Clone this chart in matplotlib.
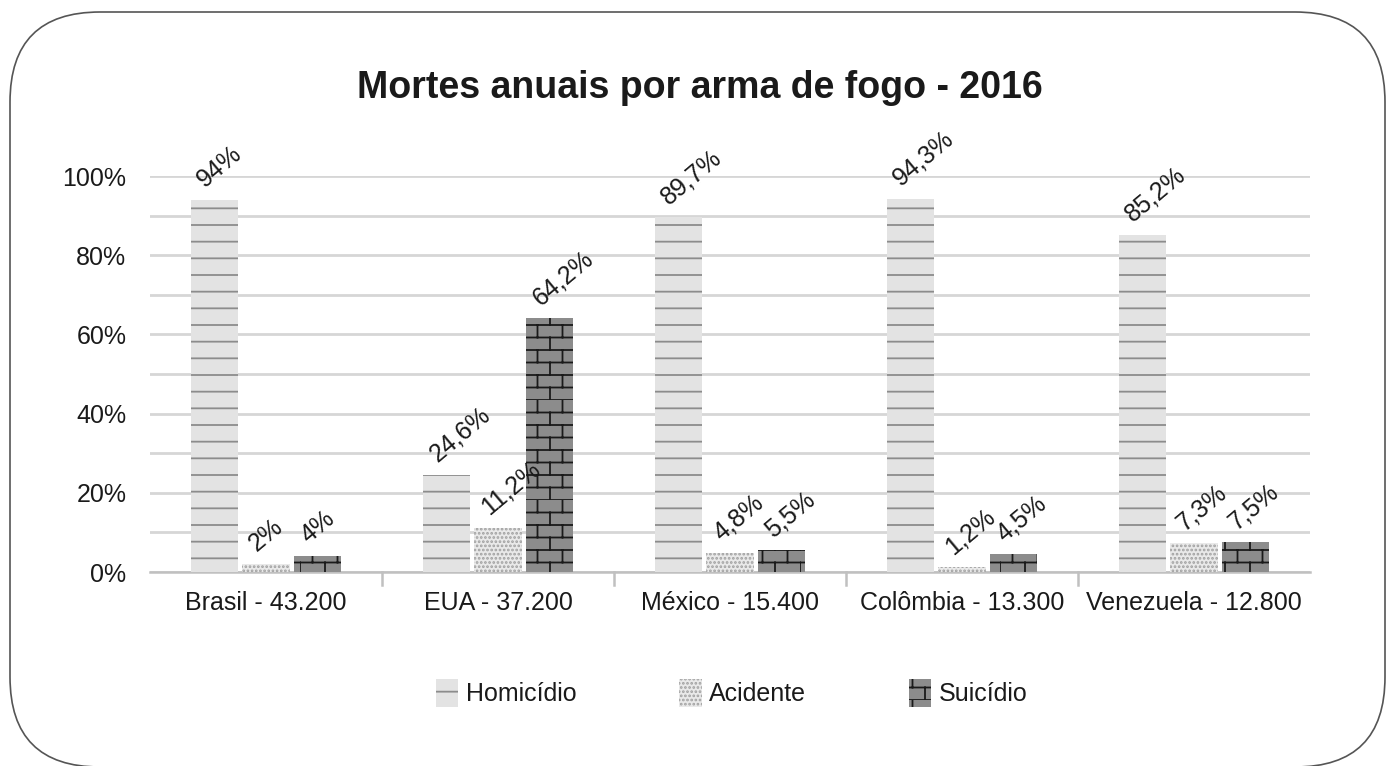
import matplotlib.hatch as mhatch
import matplotlib.pyplot as plt
import numpy as np
from matplotlib.patches import FancyBboxPatch, Patch
from matplotlib.path import Path

plt.rcParams["font.family"] = ["Liberation Sans", "DejaVu Sans"]
plt.rcParams["hatch.linewidth"] = 1.3

paises = ["Brasil - 43.200", "EUA - 37.200", "México - 15.400", "Colômbia - 13.300", "Venezuela - 12.800"]
homicidio = [94.0, 24.6, 89.7, 94.3, 85.2]
acidente = [2.0, 11.2, 4.8, 1.2, 7.3]
suicidio = [4.0, 64.2, 5.5, 4.5, 7.5]
rotulos_y = ["0%", "20%", "40%", "60%", "80%", "100%"]


class TijoloHatch(mhatch.HatchPatternBase):
    # padrão de tijolos: linhas horizontais e juntas verticais alternadas
    def __init__(self, hatch, density):
        n = hatch.count("*")
        self.linhas = 8 * n
        self.colunas = 4 * n
        self.num_vertices = self.linhas * 2 + self.linhas * self.colunas * 2

    def set_vertices_and_codes(self, vertices, codes):
        pts = []
        for r in range(self.linhas):
            y = r / self.linhas
            pts += [(0.0, y), (1.0, y)]
        for r in range(self.linhas):
            y0, y1 = r / self.linhas, (r + 1) / self.linhas
            desloc = 0.5 / self.colunas if r % 2 else 0.0
            for c in range(self.colunas):
                xx = c / self.colunas + desloc
                pts += [(xx, y0), (xx, y1)]
        vertices[:] = pts
        codes[0::2] = Path.MOVETO
        codes[1::2] = Path.LINETO


mhatch._hatch_types = [t for t in mhatch._hatch_types if t is not mhatch.Stars] + [TijoloHatch]

series = [
    ("Homicídio", homicidio, "#e3e3e3", "#8c8c8c", "-"),
    ("Acidente", acidente, "#e9e9e9", "#a0a0a0", "...."),
    ("Suicídio", suicidio, "#8c8c8c", "#1a1a1a", "*"),
]

fig = plt.figure(figsize=(13.91, 7.66), dpi=100)

# moldura arredondada em coordenadas de pixel
fundo = fig.add_axes([0, 0, 1, 1], zorder=0)
fundo.set_xlim(0, 1391)
fundo.set_ylim(766, 0)
fundo.axis("off")
fundo.add_patch(FancyBboxPatch((10, 12), 1375, 755, boxstyle="round,pad=0,rounding_size=90",
                               facecolor="white", edgecolor="#555555", linewidth=1.2))

ax = fig.add_axes([150 / 1391, 1 - 572 / 766, 1160 / 1391, 396 / 766], zorder=1)
ax.patch.set_alpha(0)

x = np.arange(len(paises))
largura = 0.203
passo = 0.223
for i, (nome, valores, face, cor_hachura, hachura) in enumerate(series):
    pos = x + (i - 1) * passo
    ax.bar(pos, valores, largura, color=face, edgecolor=cor_hachura, hatch=hachura,
           linewidth=0, label=nome, zorder=3)
    for xi, v in zip(pos, valores):
        txt = f"{v:.1f}".rstrip("0").rstrip(".").replace(".", ",")
        ax.annotate(txt + "%", (xi, v), xytext=(-6, 8), textcoords="offset pixels",
                    rotation=40, rotation_mode="anchor", ha="left", va="bottom",
                    fontsize=18, color="#1a1a1a", zorder=4)

ax.set_xlim(-0.5, len(paises) - 0.5)
ax.set_ylim(0, 100)
ax.set_yticks(np.arange(0, 101, 10), minor=True)
ax.set_yticks(np.arange(0, 101, 20))
ax.set_yticklabels(rotulos_y, fontsize=18, color="#1a1a1a")
ax.grid(axis="y", which="both", color="#d6d6d6", linewidth=2, zorder=0)
ax.tick_params(axis="y", which="both", length=0, pad=17)

ax.set_xticks(x)
ax.set_xticklabels(paises, fontsize=18, color="#1a1a1a")
ax.tick_params(axis="x", length=0, pad=14)
for b in np.arange(0.5, len(paises) - 0.5, 1):
    ax.plot([b, b], [0, -3.2], color="#c0c0c0", linewidth=1.8, clip_on=False, zorder=2)

for lado in ["top", "right", "left"]:
    ax.spines[lado].set_visible(False)
ax.spines["bottom"].set_color("#c0c0c0")
ax.spines["bottom"].set_linewidth(1.8)

fig.text(0.503, 1 - 88 / 766, "Mortes anuais por arma de fogo - 2016", ha="center", va="center",
         fontsize=27, fontweight="bold", color="#1a1a1a")

alcas = [Patch(facecolor=f, edgecolor=c, hatch=h, linewidth=0, label=n) for n, _, f, c, h in series]
fig.legend(handles=alcas, loc="center", bbox_to_anchor=(0.526, 1 - 693 / 766), ncol=3, frameon=False,
           fontsize=18, handlelength=0.9, handleheight=1.3, handletextpad=0.3, columnspacing=4.1,
           labelcolor="#1a1a1a")

fig.savefig("out.png", dpi=100)
